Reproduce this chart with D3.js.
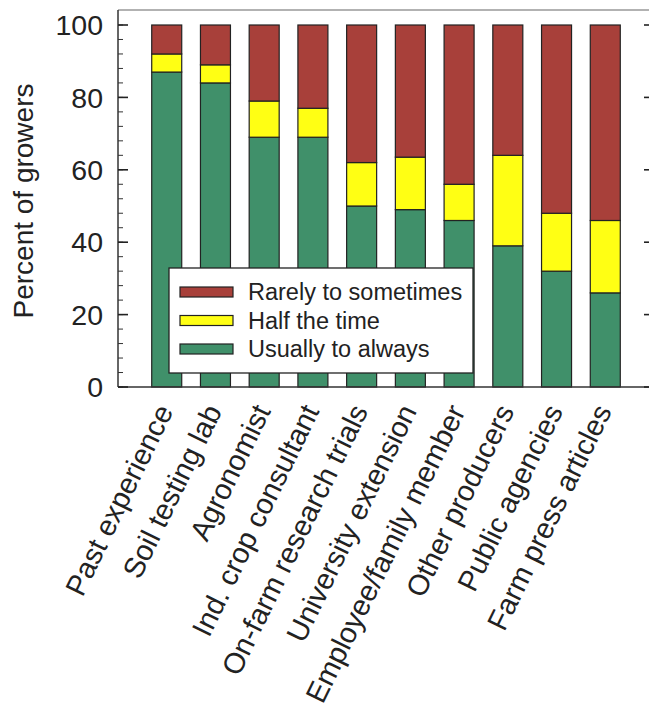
<!DOCTYPE html>
<html><head><meta charset="utf-8">
<script src="https://cdn.jsdelivr.net/npm/d3@7"></script>
<style>body{margin:0;background:#fff}svg{display:block;font-family:"Liberation Sans",Arial,sans-serif}</style>
</head><body>
<script>
const categories = ["Past experience","Soil testing lab","Agronomist","Ind. crop consultant","On-farm research trials","University extension","Employee/family member","Other producers","Public agencies","Farm press articles"];
const usually = [87,84,69,69,50,49,46,39,32,26];
const half = [5,5,10,8,12,14.5,10,25,16,20];
const rarely = usually.map((u,i)=>100-u-half[i]);
const seriesNames = ["Rarely to sometimes","Half the time","Usually to always"];
const seriesColors = {"Usually to always":"#40906a","Half the time":"#ffff14","Rarely to sometimes":"#a8403a"};
const yTicks = [0,20,40,60,80,100];

const W=649,H=711;
const L=118,R=654,T=10,B=387;
const svg=d3.select("body").append("svg").attr("width",W).attr("height",H);
const x=d3.scaleLinear().domain([0,categories.length+1]).range([L,R]);
const y=d3.scaleLinear().domain([0,100]).range([B,25]);

const rows=categories.map((c,i)=>({cat:c,i:i,"Usually to always":usually[i],"Half the time":half[i],"Rarely to sometimes":rarely[i]}));
const stack=d3.stack().keys(["Usually to always","Half the time","Rarely to sometimes"])(rows);
const bw=30;
svg.append("g").selectAll("g").data(stack).join("g").attr("fill",d=>seriesColors[d.key])
 .selectAll("rect").data(d=>d).join("rect")
 .attr("x",d=>x(d.data.i+1)-bw/2).attr("width",bw)
 .attr("y",d=>y(d[1])).attr("height",d=>y(d[0])-y(d[1]))
 .attr("stroke","#222").attr("stroke-width",1.2);

// frame
svg.append("line").attr("x1",L).attr("x2",R).attr("y1",T).attr("y2",T).attr("stroke","#666").attr("stroke-width",1.2);
svg.append("line").attr("x1",L).attr("x2",R).attr("y1",B).attr("y2",B).attr("stroke","#333").attr("stroke-width",1.5);
svg.append("line").attr("x1",L).attr("x2",L).attr("y1",T).attr("y2",B).attr("stroke","#333").attr("stroke-width",1.5);
svg.append("line").attr("x1",R).attr("x2",R).attr("y1",T).attr("y2",B).attr("stroke","#333").attr("stroke-width",1.5);

const minor=d3.range(0,101,4);
[[L,1],[R,-1]].forEach(([ax,dir])=>{
  const g=svg.append("g");
  g.selectAll(".mn").data(minor).join("line").attr("x1",ax).attr("x2",ax+dir*5)
   .attr("y1",d=>y(d)).attr("y2",d=>y(d)).attr("stroke","#333").attr("stroke-width",1);
  g.selectAll(".mj").data(yTicks).join("line").attr("x1",ax).attr("x2",ax+dir*10)
   .attr("y1",d=>y(d)).attr("y2",d=>y(d)).attr("stroke","#222").attr("stroke-width",1.6);
});
svg.append("g").selectAll("text").data(yTicks).join("text")
 .attr("x",103).attr("y",d=>y(d)).attr("dy","0.36em").attr("text-anchor","end")
 .attr("font-size",28.5).attr("fill","#222").text(d=>d);

svg.append("text").attr("transform","translate(33,201) rotate(-90)").attr("text-anchor","middle")
 .attr("font-size",28).attr("fill","#222").text("Percent of growers");

svg.append("g").selectAll("text").data(categories).join("text")
 .attr("transform",(d,i)=>`translate(${x(i+1)+7},${B+24}) rotate(-64)`)
 .attr("text-anchor","end").attr("font-size",29).attr("fill","#222").text(d=>d);

// legend
const lg=svg.append("g");
lg.append("rect").attr("x",169).attr("y",268).attr("width",304).attr("height",105).attr("fill","#fff").attr("stroke","#222").attr("stroke-width",1.3);
seriesNames.forEach((n,k)=>{
  const cy=292+k*28.5;
  lg.append("rect").attr("x",180).attr("y",cy-5).attr("width",53).attr("height",10).attr("fill",seriesColors[n]).attr("stroke","#222").attr("stroke-width",1.2);
  lg.append("text").attr("x",248).attr("y",cy).attr("dy","0.36em").attr("font-size",23.5).attr("fill","#222").text(n);
});
</script>
</body></html>
